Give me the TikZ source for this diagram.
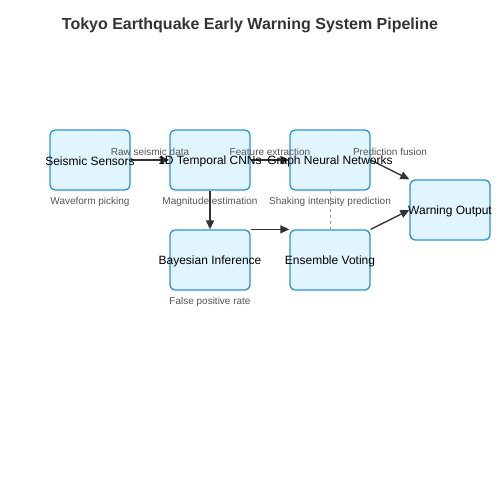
\documentclass[tikz,border=0pt]{standalone}
\usepackage{fontspec}
\setmainfont{Liberation Sans}
\usetikzlibrary{arrows.meta}
\definecolor{boxfill}{HTML}{E1F5FE}
\definecolor{boxline}{HTML}{2892D8}
\definecolor{edgecol}{HTML}{333333}
\definecolor{labcol}{HTML}{555555}
\definecolor{dashcol}{HTML}{999999}
\begin{document}
\begin{tikzpicture}[x=1pt,y=-1pt,
  stage/.style={draw=boxline,fill=boxfill,line width=1.3pt,rounded corners=5pt,
    minimum width=80pt,minimum height=60pt,inner sep=0pt},
  stagetext/.style={font=\fontsize{12}{14}\selectfont,text=black,inner sep=0pt},
  flow/.style={draw=edgecol,line width=1.4pt,-{Triangle[length=9pt,width=8pt]}},
  weak/.style={draw=dashcol,line width=1pt,dash pattern=on 3pt off 3pt},
  lab/.style={font=\fontsize{10}{12}\selectfont,text=labcol,inner sep=0pt}]
\useasboundingbox (0,0) rectangle (500,500);
\node[font=\bfseries\fontsize{16}{19}\selectfont,text=edgecol] (title) at (250,25.5) {Tokyo Earthquake Early Warning System Pipeline};
\node[stage] (sens) at (90,160) {};
\node[stage] (cnn) at (210,160) {};
\node[stage] (gnn) at (330,160) {};
\node[stage] (warn) at (450,210) {};
\node[stage] (bayes) at (210,260) {};
\node[stage] (ens) at (330,260) {};
\draw[flow] (sens.east) -- (cnn.west);
\draw[flow] (cnn.east) -- (gnn.west);
\draw[flow] (gnn.east) -- (warn.north west);
\draw[flow] (cnn.south) -- (bayes.north);
\draw[flow] (bayes.north east) -- (ens.north west);
\draw[weak] (gnn.south) -- (ens.north);
\draw[flow] (ens.north east) -- (warn.west);
\node[stagetext] (tsens) at (90,161.5) {Seismic Sensors};
\node[stagetext] (tcnn) at (210,161.5) {1D Temporal CNNs};
\node[stagetext] (tgnn) at (330,161.5) {Graph Neural Networks};
\node[stagetext] (twarn) at (450,211.5) {Warning Output};
\node[stagetext] (tbayes) at (210,261.5) {Bayesian Inference};
\node[stagetext] (tens) at (330,261.5) {Ensemble Voting};
\node[lab] (l1) at (150,152) {Raw seismic data};
\node[lab] (l2) at (270,152) {Feature extraction};
\node[lab] (l3) at (390,152) {Prediction fusion};
\node[lab] (l4) at (90,202) {Waveform picking};
\node[lab] (l5) at (210,202) {Magnitude estimation};
\node[lab] (l6) at (330,202) {Shaking intensity prediction};
\node[lab] (l7) at (210,302) {False positive rate};
\end{tikzpicture}
\end{document}
